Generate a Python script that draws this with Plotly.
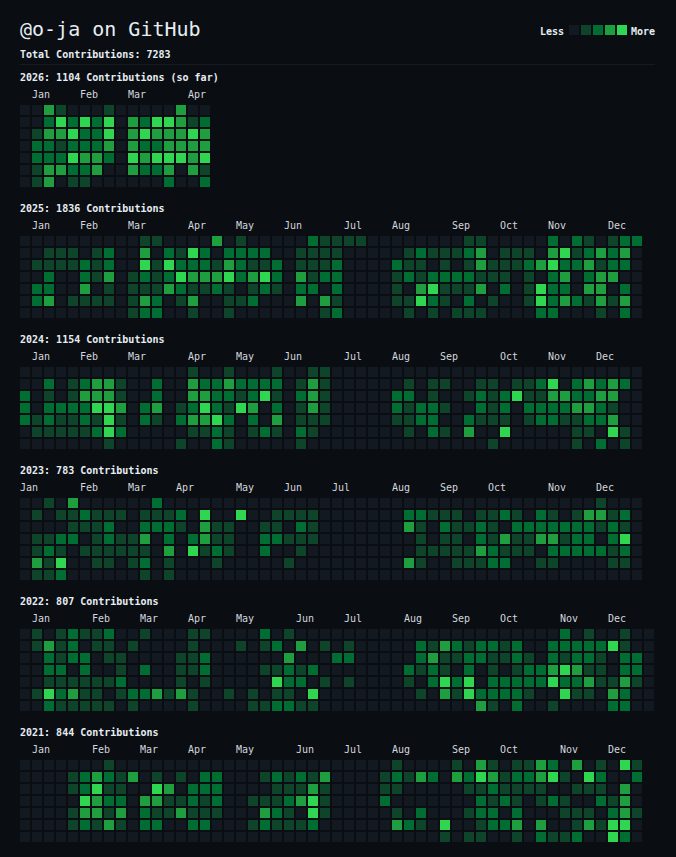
import plotly.graph_objects as go

# ---------------- data ----------------
user_title = "@o-ja on GitHub"
total_contributions = 7283
years = [2026, 2025, 2024, 2023, 2022, 2021]
year_totals = [1104, 1836, 1154, 783, 807, 844]
year_notes = [" (so far)", "", "", "", "", ""]
level_names = ["Less", "More"]
legend_levels = [0, 1, 2, 3, 4]

# contribution levels (0-4); one string per weekday row (Sun..Sat),
# one digit per week column (spaces are only for readability)
grid_2026 = [
    "0031000100 000300",
    "0024242403 244312",
    "0133422403 433343",
    "0221222303 223333",
    "0222433204 344434",
    "0133223003 223031",
    "0130110000 002002",
]
grid_2025 = [
    "0000000000 1100003010 0000211110 0000000110 0000202101 22",
    "0011101200 3021420222 2001111000 0012111230 1110341232 30",
    "0111121200 4142221321 1201112000 0211010131 1123422312 20",
    "0020021301 2124333423 4203122000 0121222211 1010230233 00",
    "0220030101 1132112101 2102202000 0103411130 2014220330 20",
    "0230111101 3201300112 0003031000 0114210201 0014232131 30",
    "0000000001 2200100100 0000012000 0010101110 0002200010 20",
]
grid_2024 = [
    "0000000000 0000100100 0100110000 0000000000 0000000000 00",
    "0020123310 0200322322 2201310000 0010110011 0112402323 20",
    "2010133310 0200332212 4102310000 0220100121 2411332233 00",
    "2022224430 2301242143 0201310000 0212210021 2022223321 00",
    "2121121410 2102334202 0301110000 0112200211 1012211223 00",
    "0111112420 0000112101 2102100000 0010210300 4000001104 10",
    "0000000100 0001002100 0001000000 0000000001 0000001020 10",
]
grid_2023 = [
    "0010300000 0200000000 0000000000 0000000000 0000000010 00",
    "0101121110 1112040040 0111100000 0022111011 2102101331 20",
    "0000111200 2221031100 1102100000 0031021121 0222222212 10",
    "0112201211 3020231100 2211100000 0001011021 3113312202 40",
    "0121011111 1030412100 2001000000 0001111132 1110222221 20",
    "0314001101 2010001000 0010000000 0031001112 2001100001 10",
    "0112000000 1010000000 0000000000 0000000000 0000000000 00",
]
grid_2022 = [
    "0101211200 1000110000 2010000000 0000000000 0000020100 100",
    "0131201101 0000100010 1203010100 0002132122 1200222224 100",
    "0021220110 0001120000 0030002200 0002311221 1210212210 220",
    "0022020010 2001120000 1121200000 0021210201 0122343110 220",
    "0011111120 0001010000 0422010100 0010242402 2222422311 310",
    "0142311012 2313100101 0110400000 0001031422 2210041103 200",
    "0021111101 0000100001 1221100000 0000000031 0200100002 200",
]
grid_2021 = [
    "0000000100 0000000000 0000000000 0100001031 0113203010 41",
    "0000123213 0101022000 1212130000 1213203243 1223410420 02",
    "0000124110 0430222000 0111310000 1100000112 1111001110 30",
    "0000043220 3311212001 1123410000 2000000021 2101210021 30",
    "0000133130 2113111000 3210410000 0102000122 0200011102 31",
    "0000121310 2200220001 2111200000 0321040012 2303001314 40",
    "0000000000 0000000000 0000000000 0000010110 0102112004 20",
]
year_grids = [grid_2026, grid_2025, grid_2024, grid_2023, grid_2022, grid_2021]

month_labels_2026 = ["Jan", "Feb", "Mar", "Apr"]
month_weeks_2026 = [1, 5, 9, 14]
month_labels = ["Jan", "Feb", "Mar", "Apr", "May", "Jun", "Jul", "Aug", "Sep", "Oct", "Nov", "Dec"]
month_weeks_2025 = [1, 5, 9, 14, 18, 22, 27, 31, 36, 40, 44, 49]
month_weeks_2024 = [1, 5, 9, 14, 18, 22, 27, 31, 35, 40, 44, 48]
month_weeks_2023 = [0, 5, 9, 13, 18, 22, 26, 31, 35, 39, 44, 48]
month_weeks_2022 = [1, 6, 10, 14, 18, 23, 27, 32, 36, 40, 45, 49]
month_weeks_2021 = [1, 6, 10, 14, 18, 23, 27, 31, 36, 40, 45, 49]
year_month_labels = [month_labels_2026] + [month_labels] * 5
year_month_weeks = [month_weeks_2026, month_weeks_2025, month_weeks_2024,
                    month_weeks_2023, month_weeks_2022, month_weeks_2021]

# ---------------- style / layout ----------------
W, H = 676, 857
BG = "#0a0d12"
LEVEL_COLORS = ["#131920", "#0e4429", "#006d32", "#1f9e40", "#2fd650"]
TEXT = "#e6edf3"
MUTED = "#d2d7dd"
FONT = "DejaVu Sans Mono"

GRID_LEFT = 19
PITCH = 12
N_WEEKS = 53
BLOCK_TOP0 = 104
BLOCK_STEP = 131


def py(px):
    return 1 - px / H


def px_x(px):
    return px / W


scale = []
n = len(LEVEL_COLORS)
for i, c in enumerate(LEVEL_COLORS):
    scale.append([i / n, c])
    scale.append([(i + 1) / n, c])

fig = go.Figure()
annotations = []

annotations.append(dict(text=user_title, x=px_x(18), y=py(29), xref="paper", yref="paper",
                        xanchor="left", yanchor="middle", showarrow=False,
                        font=dict(family=FONT, size=20, color=TEXT)))
annotations.append(dict(text="<b>Total Contributions: %d</b>" % total_contributions,
                        x=px_x(18), y=py(54), xref="paper", yref="paper",
                        xanchor="left", yanchor="middle", showarrow=False,
                        font=dict(family=FONT, size=10, color=TEXT)))

for i, (yr, tot, note, grid) in enumerate(zip(years, year_totals, year_notes, year_grids)):
    top = BLOCK_TOP0 + i * BLOCK_STEP
    ax = "" if i == 0 else str(i + 1)
    z = [[int(ch) for ch in row.replace(" ", "")] for row in grid]
    ncols = len(z[0])
    fig.add_trace(go.Heatmap(
        z=z, x=list(range(ncols)), y=list(range(7)),
        zmin=-0.5, zmax=4.5, colorscale=scale, showscale=False,
        xgap=2, ygap=2, hoverinfo="skip",
        xaxis="x" + ax, yaxis="y" + ax))
    fig.layout["xaxis" + ax] = dict(domain=[px_x(GRID_LEFT), px_x(GRID_LEFT + N_WEEKS * PITCH)],
                                    range=[-0.5, N_WEEKS - 0.5], visible=False,
                                    fixedrange=True, anchor="y" + ax)
    fig.layout["yaxis" + ax] = dict(domain=[py(top + 7 * PITCH), py(top)],
                                    range=[6.5, -0.5], visible=False,
                                    fixedrange=True, anchor="x" + ax)
    annotations.append(dict(text="<b>%d: %d Contributions%s</b>" % (yr, tot, note),
                            x=px_x(18), y=py(top - 26.5), xref="paper", yref="paper",
                            xanchor="left", yanchor="middle", showarrow=False,
                            font=dict(family=FONT, size=10, color=TEXT)))
    for lab, wk in zip(year_month_labels[i], year_month_weeks[i]):
        annotations.append(dict(text=lab, x=wk - 0.5, y=py(top - 9.5), xshift=-1,
                                xref="x" + ax, yref="paper", xanchor="left", yanchor="middle",
                                showarrow=False, font=dict(family=FONT, size=10, color=MUTED)))

# legend (Less ... More)
lg = "7"
fig.add_trace(go.Heatmap(
    z=[legend_levels], x=list(range(len(legend_levels))), y=[0],
    zmin=-0.5, zmax=4.5, colorscale=scale, showscale=False,
    xgap=2, ygap=2, hoverinfo="skip", xaxis="x" + lg, yaxis="y" + lg))
fig.layout["xaxis" + lg] = dict(domain=[px_x(568), px_x(628)], range=[-0.5, 4.5],
                                visible=False, fixedrange=True, anchor="y" + lg)
fig.layout["yaxis" + lg] = dict(domain=[py(36), py(24)], range=[0.5, -0.5],
                                visible=False, fixedrange=True, anchor="x" + lg)
annotations.append(dict(text="<b>%s</b>" % level_names[0], x=px_x(566), y=py(31.5),
                        xref="paper", yref="paper", xanchor="right", yanchor="middle",
                        showarrow=False, font=dict(family=FONT, size=10, color=TEXT)))
annotations.append(dict(text="<b>%s</b>" % level_names[1], x=px_x(629), y=py(31.5),
                        xref="paper", yref="paper", xanchor="left", yanchor="middle",
                        showarrow=False, font=dict(family=FONT, size=10, color=TEXT)))

fig.update_layout(
    width=W, height=H,
    margin=dict(l=0, r=0, t=0, b=0),
    paper_bgcolor=BG, plot_bgcolor=BG,
    annotations=annotations,
    shapes=[dict(type="line", xref="paper", yref="paper",
                 x0=px_x(20), x1=px_x(655), y0=py(64.5), y1=py(64.5),
                 line=dict(color="#161b22", width=1))],
    showlegend=False,
)

fig.write_html("out.html", config={"displayModeBar": False},
               post_script="document.body.style.margin='0';"
                           "document.body.style.background='%s';" % BG)
